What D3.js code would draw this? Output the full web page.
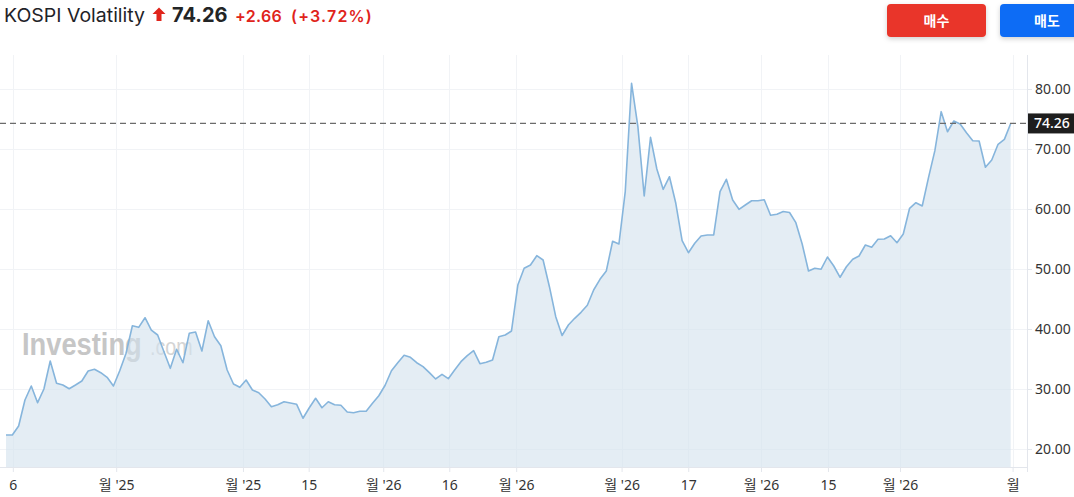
<!DOCTYPE html>
<html>
<head>
<meta charset="utf-8">
<script src="https://cdn.jsdelivr.net/npm/d3@7"></script>
<style>
  html, body { margin: 0; padding: 0; background: #fff; }
  svg { display: block; }
</style>
</head>
<body>
<div id="chart"></div>
<script>
// ---- data ----
const title = "KOSPI Volatility";
const lastPrice = "74.26";
const change = "+2.66";
const changePct = "(+3.72%)";
const buyLabel = "매수";
const sellLabel = "매도";

const values = [
  22.33, 22.33, 23.83, 28.17, 30.50, 27.72, 30.00, 34.67, 30.95, 30.67,
  30.05, 30.67, 31.33, 33.00, 33.28, 32.72, 31.95, 30.50, 33.05, 35.95,
  40.55, 40.28, 41.88, 39.83, 39.00, 36.22, 33.45, 36.62, 34.38, 39.28,
  39.50, 36.33, 41.38, 38.72, 37.22, 33.17, 30.83, 30.28, 31.50, 29.83,
  29.38, 28.33, 27.05, 27.38, 27.88, 27.67, 27.45, 25.12, 26.88, 28.45,
  26.88, 27.88, 27.38, 27.28, 26.17, 26.05, 26.28, 26.28, 27.62, 28.88,
  30.62, 33.05, 34.38, 35.62, 35.28, 34.38, 33.72, 32.72, 31.67, 32.45,
  31.72, 33.17, 34.55, 35.55, 36.38, 34.22, 34.45, 34.83, 38.72, 39.00,
  39.67, 47.33, 50.12, 50.67, 52.22, 51.50, 47.05, 42.05, 38.92, 40.67,
  41.78, 42.78, 43.95, 46.50, 48.28, 49.67, 54.62, 54.17, 62.88, 80.95,
  73.72, 62.17, 71.95, 66.67, 63.28, 65.38, 60.95, 54.72, 52.72, 54.28,
  55.50, 55.67, 55.67, 62.88, 64.95, 61.50, 59.95, 60.67, 61.38, 61.38,
  61.55, 58.95, 59.12, 59.58, 59.42, 57.72, 54.17, 49.67, 50.13, 49.97,
  52.00, 50.50, 48.62, 50.38, 51.62, 52.17, 54.00, 53.62, 54.95, 55.00,
  55.55, 54.38, 55.83, 60.12, 61.05, 60.50, 65.28, 69.72, 76.22, 72.88,
  74.67, 74.17, 72.72, 71.38, 71.33, 66.95, 68.17, 70.78, 71.60, 74.26
];

// x-axis tick positions (in data-index units) and their labels
const xTickPos = [1.08, 17.44, 37.5, 47.9, 59.7, 70.15, 80.74, 97.42, 107.97, 119.48, 130.08, 141.48, 159.3];
const xTickLabels = ["6", "월 '25", "월 '25", "15", "월 '26", "16", "월 '26", "월 '26", "17", "월 '26", "15", "월 '26", "월"];

const yTicks = [20, 30, 40, 50, 60, 70, 80];

// ---- layout ----
const W = 1074, H = 497;
const plot = { left: 0, right: 1027, top: 55, bottom: 467 };

const svg = d3.select("#chart").append("svg")
  .attr("width", W).attr("height", H)
  .attr("viewBox", `0 0 ${W} ${H}`);

const defs = svg.append("defs");
const shadow = defs.append("filter").attr("id", "btnShadow")
  .attr("x", "-20%").attr("y", "-30%").attr("width", "140%").attr("height", "180%");
shadow.append("feDropShadow").attr("dx", 0).attr("dy", 2).attr("stdDeviation", 2.5)
  .attr("flood-color", "#000").attr("flood-opacity", 0.18);

const x = d3.scaleLinear().domain([0, values.length - 1]).range([6, 1010.7]);
const y = d3.scaleLinear().domain([17, 80 + (89 - 55) / 6]).range([plot.bottom, plot.top]);

// grid lines
const grid = svg.append("g");
grid.selectAll("line.h").data(yTicks).join("line")
  .attr("x1", 0).attr("x2", plot.right)
  .attr("y1", d => Math.round(y(d)) + 0.5).attr("y2", d => Math.round(y(d)) + 0.5)
  .attr("stroke", "#f1f3f6").attr("stroke-width", 1);
grid.selectAll("line.v").data(xTickPos).join("line")
  .attr("x1", d => Math.round(x(d)) + 0.5).attr("x2", d => Math.round(x(d)) + 0.5)
  .attr("y1", plot.top).attr("y2", plot.bottom)
  .attr("stroke", "#f1f3f6").attr("stroke-width", 1);

// watermark
const wm = svg.append("g");
wm.append("text").attr("transform", "translate(22,355) scale(0.88,1)")
  .attr("font-family", "Liberation Sans, Arial, sans-serif")
  .attr("font-weight", 700).attr("font-size", 31)
  .attr("fill", "#c6c6c6").text("Investing");
wm.append("text").attr("transform", "translate(150,355) scale(0.82,1)")
  .attr("font-family", "Liberation Sans, Arial, sans-serif")
  .attr("font-size", 24)
  .attr("fill", "#d4d4d4").text(".com");

// area + line
const area = d3.area().x((d, i) => x(i)).y0(plot.bottom).y1(d => y(d));
const line = d3.line().x((d, i) => x(i)).y(d => y(d));

svg.append("path").datum(values).attr("d", area)
  .attr("fill", "#d3e2ee").attr("fill-opacity", 0.62);
svg.append("path").datum(values).attr("d", line)
  .attr("fill", "none").attr("stroke", "#86b5dc").attr("stroke-width", 1.6)
  .attr("stroke-linejoin", "round");

// x axis
const xAxis = d3.axisBottom(x).tickValues(xTickPos)
  .tickFormat((d, i) => xTickLabels[i]).tickSize(5).tickPadding(8);
const gx = svg.append("g").attr("transform", `translate(0,${plot.bottom})`).call(xAxis);
gx.select(".domain").attr("d", `M0,0.5H${plot.right}`).attr("stroke", "#e3e6ec");
gx.selectAll(".tick line").attr("stroke", "#e3e6ec");
gx.selectAll(".tick text")
  .attr("font-family", "'Noto Sans', 'Noto Sans CJK KR', sans-serif")
  .attr("font-size", 14).attr("fill", "#333");

// y axis (right)
const yAxis = d3.axisRight(y).tickValues(yTicks).tickFormat(d => d.toFixed(2))
  .tickSize(5).tickPadding(3);
const gy = svg.append("g").attr("transform", `translate(${plot.right},0)`).call(yAxis);
gy.select(".domain").attr("d", `M0.5,${plot.top}V${plot.bottom + 5}`).attr("stroke", "#e3e6ec");
gy.selectAll(".tick line").attr("stroke", "#e3e6ec");
gy.selectAll(".tick text")
  .attr("font-family", "'Noto Sans', sans-serif")
  .attr("font-size", 14).attr("fill", "#333");

// current price line + label
const lastY = y(values[values.length - 1]);
svg.append("line").attr("x1", 0).attr("x2", plot.right)
  .attr("y1", lastY).attr("y2", lastY)
  .attr("stroke", "#6b6b6b").attr("stroke-width", 1.2).attr("stroke-dasharray", "6,4");
svg.append("rect").attr("x", plot.right + 1).attr("y", lastY - 10)
  .attr("width", W - plot.right - 1).attr("height", 20).attr("fill", "#1e1e1e");
svg.append("text").attr("x", plot.right + 7).attr("y", lastY + 5)
  .attr("font-family", "'Noto Sans', sans-serif").attr("font-size", 14).attr("font-weight", 500)
  .attr("fill", "#fff").text(lastPrice);

// header
const hdr = svg.append("g").attr("font-family", "Inter, 'Noto Sans', sans-serif");
hdr.append("text").attr("x", 4).attr("y", 22).attr("font-size", 19)
  .attr("textLength", 141).attr("lengthAdjust", "spacingAndGlyphs")
  .attr("fill", "#1f2328").text(title);
hdr.append("path")
  .attr("d", "M159,7.5 L165.5,14 L161.5,14 L161.5,21 L156.5,21 L156.5,14 L152.5,14 Z")
  .attr("fill", "#e0241b");
hdr.append("text").attr("x", 172).attr("y", 22).attr("font-size", 20).attr("font-weight", 700)
  .attr("fill", "#232526").text(lastPrice);
hdr.append("text").attr("x", 235).attr("y", 22).attr("font-size", 16).attr("font-weight", 600)
  .attr("letter-spacing", 0.3)
  .attr("fill", "#e0241b").text(change);
hdr.append("text").attr("x", 291).attr("y", 22).attr("font-size", 16).attr("font-weight", 600)
  .attr("letter-spacing", 1.2)
  .attr("fill", "#e0241b").text(changePct);

// buttons
const btn = svg.append("g").attr("font-family", "'Noto Sans CJK KR', sans-serif");
btn.append("rect").attr("x", 887).attr("y", 4).attr("width", 99).attr("height", 33).attr("rx", 4)
  .attr("fill", "#e9352a").attr("filter", "url(#btnShadow)");
btn.append("text").attr("x", 936.5).attr("y", 25.5).attr("text-anchor", "middle")
  .attr("font-size", 14).attr("font-weight", 700).attr("fill", "#fff").text(buyLabel);
btn.append("rect").attr("x", 1000).attr("y", 4).attr("width", 90).attr("height", 33).attr("rx", 4)
  .attr("fill", "#0b6cf5").attr("filter", "url(#btnShadow)");
btn.append("text").attr("x", 1047).attr("y", 25.5).attr("text-anchor", "middle")
  .attr("font-size", 14).attr("font-weight", 700).attr("fill", "#fff").text(sellLabel);
</script>
</body>
</html>
